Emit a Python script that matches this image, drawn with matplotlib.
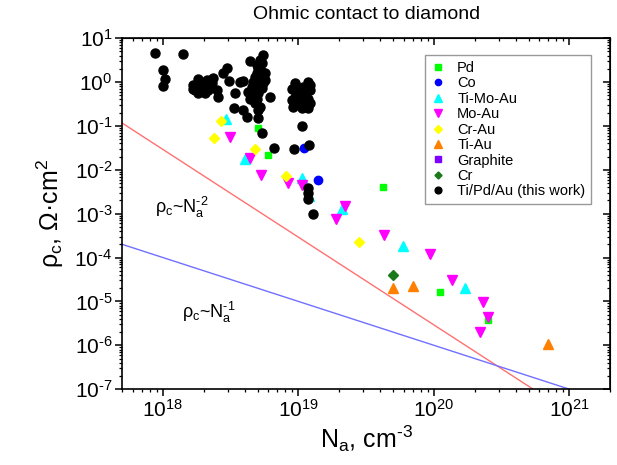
import numpy as np
import matplotlib
matplotlib.use("Agg")
from matplotlib import pyplot as plt
from matplotlib.ticker import LogLocator, FuncFormatter, NullFormatter

plt.rcParams['font.family'] = ['Liberation Sans', 'DejaVu Sans']
plt.rcParams['mathtext.fontset'] = 'custom'
plt.rcParams['mathtext.rm'] = 'Liberation Sans'
plt.rcParams['mathtext.it'] = 'Liberation Sans:italic'

# contact resistivity vs acceptor concentration, per metallization
pd_n = [5.0e18, 6.0e18, 4.2e19, 1.1e20, 2.5e20]
pd_rho = [0.088, 0.022, 4.0e-3, 1.6e-5, 3.8e-6]

co_n = [1.1e19, 1.4e19]
co_rho = [0.031, 5.8e-3]

timoau_n = [2.9e18, 4.0e18, 1.07e19, 1.2e19, 2.1e19, 5.9e19, 1.7e20]
timoau_rho = [0.14, 0.018, 6.6e-3, 2.5e-3, 1.3e-3, 1.8e-4, 2.0e-5]

moau_n = [3.1e18, 4.4e18, 5.3e18, 8.4e18, 1.07e19, 2.2e19, 1.9e19,
          4.3e19, 9.3e19, 1.35e20, 2.3e20, 2.5e20, 2.2e20]
moau_rho = [0.057, 0.019, 7.8e-3, 5.0e-3, 4.4e-3, 1.5e-3, 7.4e-4,
            3.2e-4, 1.2e-4, 3.1e-5, 9.8e-6, 4.5e-6, 2.0e-6]

crau_n = [2.7e18, 2.4e18, 4.8e18, 8.1e18, 2.8e19]
crau_rho = [0.13, 0.054, 0.030, 7.1e-3, 2.3e-4]

tiau_n = [5.0e19, 7.0e19, 7.0e20]
tiau_rho = [2.0e-5, 2.2e-5, 1.1e-6]

graphite_n = []
graphite_rho = []

cr_n = [5.0e19]
cr_rho = [4.0e-5]

tipdau_n = [8.7e17, 1.41e18, 1.0e18, 1.03e18, 1.0e18,
            1.82e18, 1.67e18, 1.72e18, 1.93e18, 2.10e18, 2.35e18, 1.98e18,
            2.22e18, 2.49e18, 1.82e18, 2.04e18, 2.16e18, 2.56e18, 1.67e18,
            2.29e18, 2.95e18, 2.79e18, 3.08e18, 3.40e18, 3.34e18, 3.70e18,
            5.45e18, 4.39e18, 5.35e18, 5.05e18, 4.92e18, 5.35e18, 4.77e18,
            5.20e18, 5.50e18, 4.63e18, 5.05e18, 5.50e18, 4.52e18, 4.92e18,
            5.35e18, 4.27e18, 4.63e18, 5.05e18, 4.39e18, 4.92e18, 4.77e18,
            5.20e18, 5.05e18, 5.66e18, 5.66e18, 5.20e18, 4.92e18,
            3.92e18, 6.17e18, 3.92e18, 4.15e18, 5.05e18, 5.35e18, 6.62e18,
            9.31e18, 1.19e19, 1.07e19,
            9.42e18, 8.91e18, 9.70e18, 1.08e19, 1.18e19, 1.22e19, 1.12e19,
            9.42e18, 1.03e19, 1.18e19, 1.22e19, 9.16e18, 1.06e19, 1.18e19,
            9.70e18, 1.12e19, 8.91e18, 1.22e19,
            1.18e19, 1.18e19, 1.18e19, 1.27e19]
tipdau_rho = [4.6, 4.3, 1.9, 1.2, 0.81,
              1.15, 0.85, 0.66, 0.93, 1.10, 1.21, 0.72,
              0.78, 0.66, 0.55, 0.55, 0.66, 0.46, 0.68,
              0.96, 2.10, 1.57, 1.06, 0.55, 0.25, 1.01,
              4.10, 3.04, 2.65, 2.04, 1.57, 1.71, 1.31,
              1.21, 1.31, 1.01, 0.93, 0.93, 0.78, 0.72,
              0.72, 0.60, 0.55, 0.55, 0.42, 0.42, 0.33,
              0.27, 0.23, 1.10, 1.57, 3.15, 2.43,
              1.06, 0.445, 0.23, 0.16, 0.148, 0.068, 0.032,
              0.029, 0.036, 0.10,
              0.93, 0.68, 0.60, 0.78, 1.01, 0.66, 0.55,
              0.46, 0.42, 0.42, 0.33, 0.27, 0.25, 0.25,
              0.33, 0.33, 0.39, 0.85,
              3.8e-3, 2.9e-3, 2.2e-3, 1.0e-3]

# guide lines rho ~ N^-2 and rho ~ N^-1 (end points)
slope2_n = [5e17, 5.4e20]
slope2_rho = [0.116, 1e-7]
slope1_n = [5e17, 1e21]
slope1_rho = [2e-4, 1e-7]

fig = plt.figure(figsize=(6.17, 4.65), dpi=100)
ax = fig.add_axes([0.198, 0.163, 0.791, 0.755])
ax.set_xscale('log')
ax.set_yscale('log')

ax.plot(slope2_n, slope2_rho, color='#FF7070', lw=1.0, zorder=1)
ax.plot(slope1_n, slope1_rho, color='#7070FF', lw=1.0, zorder=1)

ax.plot(pd_n, pd_rho, 's', color='#00FF00', ms=5, ls='none', label='Pd')
ax.plot(co_n, co_rho, 'o', color='#0000FF', ms=6, ls='none', label='Co')
ax.plot(timoau_n, timoau_rho, '^', color='#00FFFF', ms=7, ls='none', label='Ti-Mo-Au')
ax.plot(moau_n, moau_rho, 'v', color='#FF00FF', ms=7, ls='none', label='Mo-Au')
ax.plot(crau_n, crau_rho, 'D', color='#FFFF00', ms=5, ls='none', label='Cr-Au')
ax.plot(tiau_n, tiau_rho, '^', color='#FF8000', ms=7, ls='none', label='Ti-Au')
ax.plot(graphite_n, graphite_rho, 's', color='#8000FF', ms=5, ls='none', label='Graphite')
ax.plot(cr_n, cr_rho, 'D', color='#1A7A1A', ms=4.8, ls='none', label='Cr')
ax.plot(tipdau_n, tipdau_rho, 'o', color='black', ms=6.5, ls='none',
        label='Ti/Pd/Au (this work)')

ax.set_xlim(5e17, 2e21)
ax.set_ylim(1e-7, 10)


def pow_label(v, pos):
    e = int(round(np.log10(v)))
    if e < 0:
        return r'$\mathregular{10^{\text{-}%d}}$' % (-e)
    return r'$\mathregular{10^{%d}}$' % e


fmt = FuncFormatter(pow_label)
ax.xaxis.set_major_locator(LogLocator(base=10, numticks=20))
ax.yaxis.set_major_locator(LogLocator(base=10, numticks=20))
ax.xaxis.set_minor_locator(LogLocator(base=10, subs=np.arange(2, 10), numticks=20))
ax.yaxis.set_minor_locator(LogLocator(base=10, subs=np.arange(2, 10), numticks=20))
ax.xaxis.set_major_formatter(fmt)
ax.yaxis.set_major_formatter(fmt)
ax.xaxis.set_minor_formatter(NullFormatter())
ax.yaxis.set_minor_formatter(NullFormatter())
ax.tick_params(which='major', direction='out', length=5, width=1.1, labelsize=15, pad=2)
ax.tick_params(which='minor', direction='out', length=2.5, width=0.9)

# top and right axes carry inward ticks only
for sec in (ax.secondary_xaxis('top'), ax.secondary_yaxis('right')):
    sec.tick_params(which='major', direction='in', length=5, width=1.1)
    sec.tick_params(which='minor', direction='in', length=2.5, width=0.9)
    for axis in (sec.xaxis, sec.yaxis):
        axis.set_major_formatter(NullFormatter())
        axis.set_minor_formatter(NullFormatter())

for s in ax.spines.values():
    s.set_linewidth(1.2)

ax.set_xlabel(r'N$_\mathregular{a}$, cm$^\mathregular{\text{-}3}$', fontsize=18, labelpad=2)
ax.set_ylabel(r'ρ$_\mathregular{c}$, Ω·cm$^\mathregular{2}$', fontsize=18, labelpad=6)
ax.set_title('Ohmic contact to diamond', fontsize=14, pad=14)

ax.text(8.7e17, 1.03e-3, r'ρ$_\mathregular{c}$~$\mathregular{N_a^{\text{-}2}}$', fontsize=13,
        ha='left', va='baseline')
ax.text(1.38e18, 4.2e-6, r'ρ$_\mathregular{c}$~$\mathregular{N_a^{\text{-}1}}$', fontsize=13,
        ha='left', va='baseline')

leg = ax.legend(loc='upper right', bbox_to_anchor=(0.961, 0.952), borderaxespad=0,
                fontsize=10.5, labelspacing=0.1, handlelength=1.0, handletextpad=0.8,
                markerscale=0.75, fancybox=False, edgecolor='#999999', framealpha=1)
leg.get_frame().set_linewidth(1.0)

fig.savefig('out.png', dpi=100)
